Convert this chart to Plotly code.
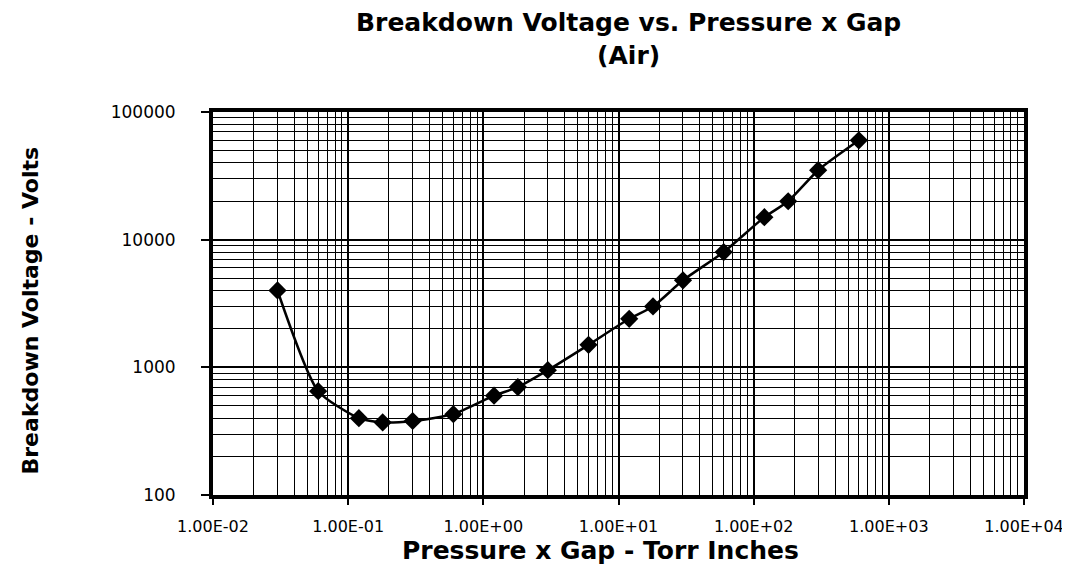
import plotly.graph_objects as go

pressure_gap = [0.03, 0.06, 0.12, 0.18, 0.30, 0.6, 1.2, 1.8, 3.0, 6.0, 12, 18, 30, 60, 120, 180, 300, 600]
breakdown_volts = [4000, 650, 400, 370, 380, 430, 600, 700, 950, 1500, 2400, 3000, 4800, 8000, 15000, 20000, 35000, 60000]

x_tick_vals = [0.01, 0.1, 1, 10, 100, 1000, 10000]
x_tick_text = ["1.00E-02", "1.00E-01", "1.00E+00", "1.00E+01", "1.00E+02", "1.00E+03", "1.00E+04"]
y_tick_vals = [100, 1000, 10000, 100000]
y_tick_text = ["100", "1000", "10000", "100000"]

# the page body has an 8px margin, so the figure is laid out 8px smaller
W, H = 1062, 560
ML, MR, MT, MB = 205, 46, 104, 73
PW = W - ML - MR
PH = H - MT - MB

fig = go.Figure()
fig.add_trace(go.Scatter(
    x=pressure_gap, y=breakdown_volts, mode="lines+markers",
    line=dict(color="black", width=2.5, shape="spline", smoothing=0.6),
    marker=dict(symbol="diamond", size=14, color="black"),
    showlegend=False,
))

tick_font = "DejaVu Sans, Arial, sans-serif"
bold_font = "DejaVu Sans, Arial, sans-serif"

fig.update_layout(
    width=W, height=H,
    paper_bgcolor="white", plot_bgcolor="white",
    margin=dict(l=ML, r=MR, t=MT, b=MB, autoexpand=False),
    font=dict(family=tick_font, color="black"),
    annotations=[
        dict(text="<b>Breakdown Voltage vs. Pressure x Gap<br>(Air)</b>",
             xref="paper", yref="paper", x=(620 - ML) / PW, y=1,
             xanchor="center", yanchor="top", yshift=MT + 2, showarrow=False,
             font=dict(family=bold_font, size=25, color="black")),
        dict(text="<b>Pressure x Gap - Torr Inches</b>", xref="paper", yref="paper",
             x=(592 - ML) / PW, y=0, xanchor="center", yanchor="bottom",
             yshift=-(MB - 1), showarrow=False,
             font=dict(family=bold_font, size=25, color="black")),
        dict(text="<b>Breakdown Voltage - Volts</b>", xref="paper", yref="paper",
             x=0, y=0.5, xanchor="center", yanchor="middle", xshift=22 - ML, yshift=-7,
             textangle=-90, showarrow=False,
             font=dict(family=bold_font, size=22, color="black")),
    ],
)
fig.update_xaxes(
    type="log", range=[-2, 4], automargin=False,
    tickvals=x_tick_vals, ticktext=x_tick_text,
    tickfont=dict(size=16, color="black"),
    ticks="outside", ticklen=6, tickwidth=1.5, tickcolor="black", ticklabelstandoff=8,
    showgrid=True, gridcolor="black", gridwidth=1.5,
    minor=dict(showgrid=True, gridcolor="black", gridwidth=1.2, dtick="D1", ticks=""),
    showline=True, linecolor="black", linewidth=4, mirror=True,
    zeroline=False,
)
fig.update_yaxes(
    type="log", range=[2, 5], automargin=False,
    tickvals=y_tick_vals, ticktext=y_tick_text,
    tickfont=dict(size=17, color="black"),
    ticks="outside", ticklen=8, tickwidth=1.5, tickcolor="black", ticklabelstandoff=22,
    showgrid=True, gridcolor="black", gridwidth=1.5,
    minor=dict(showgrid=True, gridcolor="black", gridwidth=1.2, dtick="D1", ticks=""),
    showline=True, linecolor="black", linewidth=4, mirror=True,
    zeroline=False,
)

fig.write_html("out.html")
